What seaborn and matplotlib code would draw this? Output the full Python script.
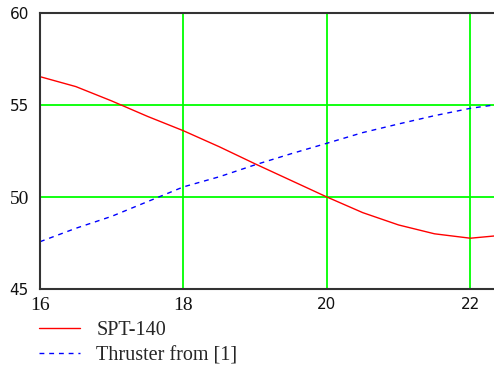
import matplotlib
matplotlib.use("Agg")
import matplotlib.pyplot as plt
import seaborn as sns
import pandas as pd

# Curve samples
x_spt = [16.0, 16.5, 17.0, 17.5, 18.0, 18.5, 19.0, 19.5, 20.0, 20.5, 21.0, 21.5, 22.0, 22.33]
y_spt = [56.54, 56.0, 55.22, 54.38, 53.6, 52.73, 51.8, 50.9, 50.0, 49.15, 48.48, 48.0, 47.76, 47.88]

x_thr = [16.0, 16.5, 17.0, 17.5, 18.0, 18.5, 19.0, 19.5, 20.0, 20.5, 21.0, 21.5, 22.0, 22.33]
y_thr = [47.57, 48.3, 48.95, 49.75, 50.55, 51.1, 51.75, 52.35, 52.92, 53.5, 53.97, 54.42, 54.82, 55.0]

series_names = ["SPT-140", "Thruster from [1]"]
x_ticks = [16, 18, 20, 22]
y_ticks = [45, 50, 55, 60]
x_tick_labels = ["16", "18", "20", "22"]
y_tick_labels = ["45", "50", "55", "60"]

df = pd.concat([
    pd.DataFrame({"x": x_spt, "y": y_spt, "series": series_names[0]}),
    pd.DataFrame({"x": x_thr, "y": y_thr, "series": series_names[1]}),
])

sns.set_style("white")
fig = plt.figure(figsize=(4.94, 3.71), dpi=100)
ax = fig.add_axes([40 / 494, (371 - 289) / 371, 1 - 40 / 494, (289 - 13) / 371])

sns.lineplot(data=df, x="x", y="y", hue="series", style="series",
             palette={series_names[0]: "#ff0000", series_names[1]: "#0000ff"},
             dashes={series_names[0]: "", series_names[1]: (3.5, 3.5)},
             linewidth=1.0, ax=ax, legend=False, sort=False)

ax.set_xlim(16, 22.33)
ax.set_ylim(45, 60)
ax.set_xticks(x_ticks)
ax.set_yticks(y_ticks)
ax.set_xticklabels(x_tick_labels)
ax.set_yticklabels(y_tick_labels)
ax.set_xlabel("")
ax.set_ylabel("")
ax.grid(True, color="#00ff00", linewidth=1.3)
ax.set_axisbelow(True)

for side in ["left", "bottom", "top"]:
    ax.spines[side].set_color("#333333")
    ax.spines[side].set_linewidth(1.5)
ax.spines["right"].set_visible(False)

ax.tick_params(axis="both", length=0, colors="#111111")
ax.tick_params(axis="x", pad=6)
ax.tick_params(axis="y", pad=8)

# The mixed label faces: some numbers in a serif face, the rest sans
serif_labels = {"16", "18", "50"}
for lab in ax.get_xticklabels() + ax.get_yticklabels():
    if lab.get_text() in serif_labels:
        lab.set_fontfamily("Liberation Serif")
        lab.set_fontsize(14)
    else:
        lab.set_fontfamily("DejaVu Sans")
        lab.set_fontsize(11)

# Legend below the plot
leg_lines = [
    plt.Line2D([], [], color="#ff0000", linewidth=1.0),
    plt.Line2D([], [], color="#0000ff", linewidth=1.0, dashes=(3.5, 3.5)),
]
fig.legend(leg_lines, series_names, loc="upper left",
           bbox_to_anchor=(39 / 494, 1 - 321 / 371), frameon=False,
           prop={"family": "Liberation Serif", "size": 14.5},
           handlelength=2.05, handletextpad=0.8, labelspacing=0.3,
           borderpad=0, borderaxespad=0)

fig.savefig("out.png", dpi=100)
